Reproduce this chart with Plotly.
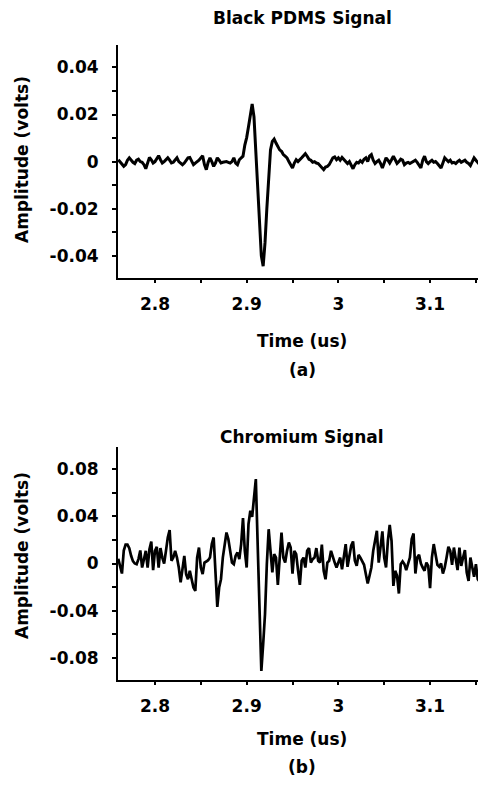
import plotly.graph_objects as go

# ---------------- data ----------------
time_start = 2.760      # us, first sample
time_step = 0.002       # us, sampling interval

pdms_amplitude = [
    0.0008, 0.0, -0.0008, -0.002, -0.0013, 0.0006, 0.0016, 0.0006, -0.0003, -0.0008,
    0.0006, 0.001, 0.0, -0.0003, -0.0013, -0.003, -0.0006, 0.0018, 0.0008, -0.0006,
    0.0, 0.001, 0.0025, 0.0008, -0.0006, 0.0, 0.001, 0.0016, 0.0006, -0.0006,
    -0.0003, 0.0008, 0.0016, 0.0, -0.0008, -0.0013, -0.0006, 0.0006, 0.0016, 0.0018,
    0.0, -0.0013, -0.0006, 0.0, 0.0006, 0.0016, 0.0025, -0.0013, -0.0034, -0.0003,
    0.0016, 0.0, -0.002, -0.0006, 0.0016, 0.0006, -0.0006, -0.0003, 0.0, 0.0,
    -0.0003, -0.0006, 0.0, 0.0016, -0.0006, -0.0013, 0.0008, 0.0016, 0.0023, 0.007,
    0.0102, 0.0148, 0.0192, 0.0245, 0.019, 0.005, -0.0105, -0.0274, -0.040, -0.0444,
    -0.0345, -0.020, -0.0048, 0.005, 0.0086, 0.0096, 0.0079, 0.0065, 0.005, 0.0044,
    0.003, 0.0023, 0.0016, 0.0, -0.0013, -0.0027, -0.0006, 0.0008, 0.0, 0.0006,
    0.0016, 0.0025, 0.0034, 0.0023, 0.001, 0.0006, -0.0003, 0.0, -0.0006, -0.0008,
    -0.0017, -0.0027, -0.0034, -0.0023, -0.002, -0.0013, 0.0, 0.0016, 0.002, 0.0008,
    0.0016, 0.0006, 0.0018, 0.0008, -0.0003, -0.0008, 0.0, -0.0017, -0.003, -0.0013,
    -0.0003, -0.0006, 0.0004, -0.0003, 0.001, 0.0016, 0.0, 0.0023, 0.003, 0.0006,
    -0.0008, 0.0, 0.0006, -0.0008, -0.0027, -0.0006, 0.0016, 0.0006, -0.0006, 0.0008,
    0.0023, 0.0008, -0.0008, 0.0, 0.001, 0.0006, -0.0013, -0.0006, -0.0003, -0.0008,
    -0.0003, 0.0, 0.0006, -0.0003, -0.0017, -0.0027, 0.0006, 0.0023, 0.0, -0.0008,
    0.0, 0.0006, -0.0003, 0.0, -0.0008, -0.0017, -0.0027, -0.0006, 0.0016, 0.0008,
    0.0, 0.0006, -0.0006, -0.0003, -0.0008, 0.0, 0.0006, -0.0003, 0.0, 0.0006,
    -0.0003, -0.0008, -0.0017, 0.0, 0.0016, 0.0006, -0.0006, -0.0013, 0.0, 0.0008,
    0.0004,
]

chromium_amplitude = [
    0.004, -0.003, -0.0085, 0.011, 0.016, 0.016, 0.013, 0.0065, 0.002, 0.0,
    -0.0006, 0.0037, 0.011, -0.0034, 0.005, 0.0107, -0.0034, 0.012, 0.0186, -0.0056,
    0.0107, 0.014, -0.0034, 0.013, 0.005, 0.0, 0.0107, 0.022, 0.0283, 0.0023,
    0.005, 0.0107, 0.005, -0.0034, -0.016, -0.0062, 0.0065, -0.009, -0.0133, -0.0062,
    -0.0133, -0.0203, -0.0231, 0.005, 0.0135, -0.0034, -0.009, 0.0008, 0.0017, 0.0028,
    0.005, 0.0164, 0.022, -0.0118, -0.0367, -0.0203, -0.0133, 0.005, 0.0164, 0.0262,
    0.0206, 0.0107, 0.0008, -0.0006, 0.0065, 0.0093, 0.0037, 0.0164, 0.0384, 0.0107,
    -0.0034, 0.0333, 0.0446, 0.0395, 0.059, 0.0714, 0.0164, -0.0457, -0.0909, -0.0683,
    -0.0429, -0.0006, 0.029, 0.0107, -0.0076, 0.0079, 0.005, -0.018, 0.0079, 0.0262,
    0.005, 0.0008, 0.0107, 0.0178, 0.0135, -0.0085, 0.0107, 0.0079, -0.0056, -0.018,
    0.0023, 0.005, -0.0034, 0.0107, 0.013, 0.0008, 0.0037, 0.005, 0.013, 0.0023,
    0.0008, 0.0159, -0.0062, -0.0133, 0.0008, 0.0023, 0.0107, 0.005, 0.0008, -0.0034,
    0.0008, 0.005, -0.0048, 0.0079, 0.0164, -0.0028, 0.0079, 0.015, 0.0186, 0.0023,
    -0.002, 0.0073, 0.005, 0.0017, -0.0011, -0.009, -0.0169, -0.0104, -0.0034, 0.0107,
    0.0206, 0.0277, 0.0008, 0.0135, 0.0271, 0.005, -0.0034, 0.0192, 0.0327, 0.0192,
    -0.0189, -0.0062, -0.0104, -0.0254, -0.0006, 0.0017, -0.0006, -0.0056, -0.0006, 0.005,
    0.0206, 0.0254, -0.0085, 0.005, 0.0073, 0.0, -0.0034, -0.0062, 0.0008, -0.002,
    -0.0209, 0.005, 0.0164, 0.0079, -0.0011, -0.0028, 0.0, -0.0085, -0.0034, 0.005,
    0.0141, 0.0107, -0.0011, 0.0135, 0.0023, -0.0056, 0.0135, -0.002, 0.005, 0.0113,
    -0.0076, -0.0147, 0.005, -0.0048, -0.0113, -0.0006, -0.0133, -0.0152, -0.0034, 0.0008,
    -0.0006,
]

x_tickvals = [2.8, 2.85, 2.9, 2.95, 3.0, 3.05, 3.1, 3.15]
x_ticktext = ["2.8", "", "2.9", "", "3", "", "3.1", ""]

pdms_tickvals = [-0.04, -0.03, -0.02, -0.01, 0.0, 0.01, 0.02, 0.03, 0.04]
pdms_ticktext = ["-0.04", "", "-0.02", "", "0", "", "0.02", "", "0.04"]

chrom_tickvals = [-0.08, -0.06, -0.04, -0.02, 0.0, 0.02, 0.04, 0.06, 0.08]
chrom_ticktext = ["-0.08", "", "-0.04", "", "0", "", "0.04", "", "0.08"]

titles = ["Black PDMS Signal", "Chromium Signal"]
panel_labels = ["(a)", "(b)"]
x_title = "Time (us)"
y_title = "Amplitude (volts)"

# ---------------- figure ----------------
OFF = 8                 # page body margin of the browser
W, H = 486 - OFF, 791 - OFF
FONT = "DejaVu Sans, Liberation Sans, Arial, sans-serif"


def py(px):
    return 1 - (px - OFF) / H


def px_x(px):
    return (px - OFF) / W


times_pdms = [round(time_start + k * time_step, 4) for k in range(len(pdms_amplitude))]
times_chrom = [round(time_start + k * time_step, 4) for k in range(len(chromium_amplitude))]

fig = go.Figure()
fig.add_trace(go.Scatter(x=times_pdms, y=pdms_amplitude, mode="lines",
                         line=dict(color="black", width=3.0), xaxis="x", yaxis="y",
                         showlegend=False, hoverinfo="skip"))
fig.add_trace(go.Scatter(x=times_chrom, y=chromium_amplitude, mode="lines",
                         line=dict(color="black", width=2.7), xaxis="x2", yaxis="y2",
                         showlegend=False, hoverinfo="skip"))

x_dom = [px_x(118), 1.0]
top_dom = [py(278), py(45)]
bot_dom = [py(680), py(447)]

tickfont = dict(family=FONT, size=17, color="black", weight="bold")

common_x = dict(range=[2.7597, 3.161], tickmode="array", tickvals=x_tickvals,
                ticktext=x_ticktext, ticks="outside", ticklen=3, tickwidth=2,
                tickcolor="black", showline=True, linecolor="black", linewidth=2,
                showgrid=False, zeroline=False, tickfont=tickfont, automargin=False,
                ticklabelstandoff=7, domain=x_dom)
common_y = dict(ticks="outside", ticklen=4, tickwidth=2, tickcolor="black",
                showline=True, linecolor="black", linewidth=2, showgrid=False,
                zeroline=False, tickfont=tickfont, automargin=False,
                ticklabelstandoff=10, tickmode="array")

fig.update_layout(
    width=W, height=H,
    margin=dict(l=0, r=0, t=0, b=0),
    paper_bgcolor="white", plot_bgcolor="white",
    xaxis=dict(common_x, anchor="y"),
    yaxis=dict(common_y, domain=top_dom, range=[-0.0494, 0.0495],
               tickvals=pdms_tickvals, ticktext=pdms_ticktext, anchor="x"),
    xaxis2=dict(common_x, anchor="y2"),
    yaxis2=dict(common_y, domain=bot_dom, range=[-0.0985, 0.0985],
                tickvals=chrom_tickvals, ticktext=chrom_ticktext, anchor="x2"),
)

cx = px_x(302)
ann_font = dict(family=FONT, size=17, color="black")
annotations = [
    dict(text="<b>%s</b>" % titles[0], x=cx, y=py(18)),
    dict(text="<b>%s</b>" % titles[1], x=cx, y=py(437)),
    dict(text="<b>%s</b>" % x_title, x=cx, y=py(341)),
    dict(text="<b>%s</b>" % x_title, x=cx, y=py(739)),
    dict(text="<b>%s</b>" % panel_labels[0], x=cx, y=py(370)),
    dict(text="<b>%s</b>" % panel_labels[1], x=cx, y=py(767)),
    dict(text="<b>%s</b>" % y_title, x=px_x(22), y=py(160), textangle=-90),
    dict(text="<b>%s</b>" % y_title, x=px_x(22), y=py(556), textangle=-90),
]
for a in annotations:
    a.update(xref="paper", yref="paper", xanchor="center", yanchor="middle",
             showarrow=False, font=ann_font)
fig.update_layout(annotations=annotations)

fig.write_html("out.html")
